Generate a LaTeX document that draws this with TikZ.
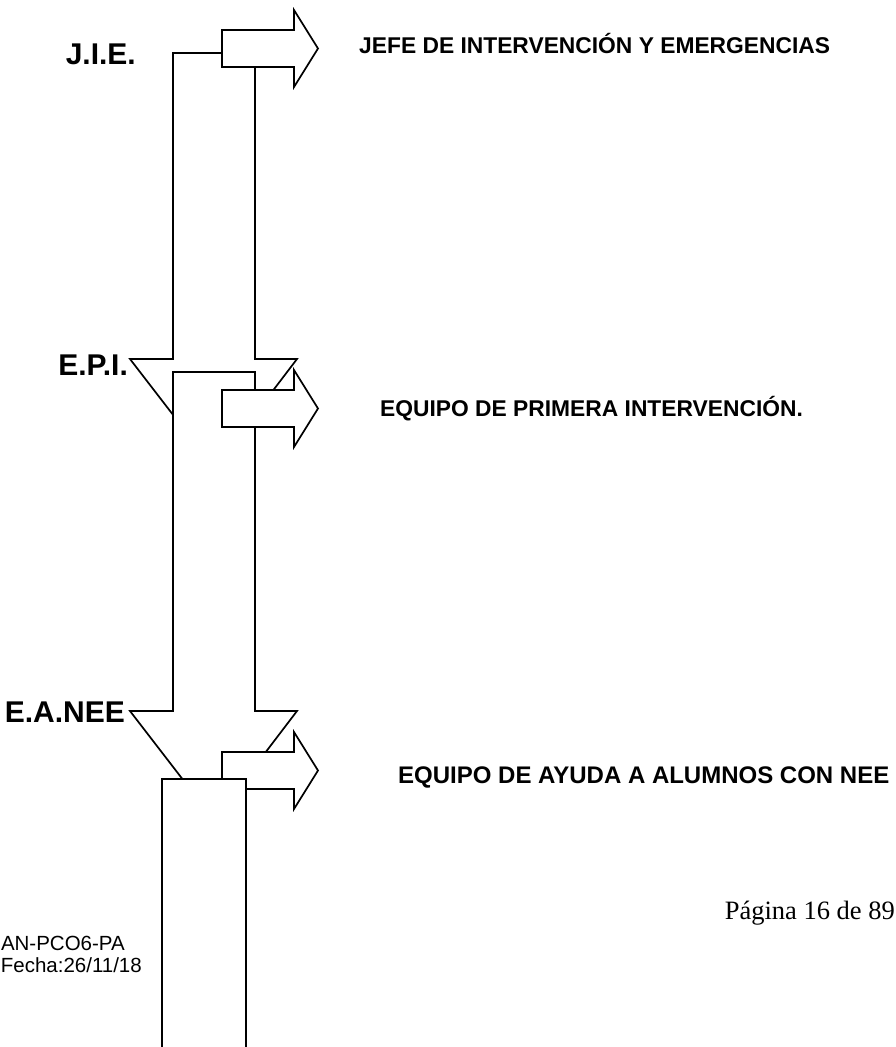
\documentclass[tikz,border=0pt]{standalone}
\usepackage{fontspec}
\setmainfont{Liberation Sans}
\newfontfamily\pagfont{Liberation Serif}
\usepackage{tikz}

\begin{document}
\begin{tikzpicture}[x=1pt,y=-1pt,
    flecha/.style={draw=black,fill=white,line width=1.7pt,line join=miter},
    sigla/.style={font=\bfseries\fontsize{30}{35}\selectfont,inner sep=0pt},
    equipo/.style={font=\bfseries\fontsize{22.8}{27}\selectfont,inner sep=0pt,anchor=base west},
    pie/.style={font=\fontsize{20.5}{25}\selectfont,inner sep=0pt,anchor=base east}]
       \useasboundingbox (0,0) rectangle (896,1047);
       \clip (0,0) rectangle (896,1047);
       % flechas hacia abajo
       \foreach \arriba/\cabeza in {53/359, 372/711}
         \filldraw[flecha] (173,\arriba) -- (255,\arriba) -- (255,\cabeza) -- (297,\cabeza)
               -- (214,\cabeza+109) -- (130,\cabeza) -- (173,\cabeza) -- cycle;
       % flechas hacia la derecha
       \foreach \medio in {48.5, 408.5, 770.5}
         \filldraw[flecha] (222,\medio-18.5) -- (294,\medio-18.5) -- (294,\medio-38.5)
               -- (318,\medio) -- (294,\medio+38.5) -- (294,\medio+18.5) -- (222,\medio+18.5) -- cycle;
       \filldraw[flecha] (162,1070) rectangle (246,779);
       % siglas
       \node[sigla,anchor=base east] (jie)   at (136,64)  {J.I.E.};
       \node[sigla,anchor=base east] (epi)   at (128,375) {E.P.I.};
       \node[sigla,anchor=base east] (eanee) at (125,722) {E.A.NEE};
       % nombres de los equipos
       \node[equipo] (jefe)    at (359,53)  {JEFE DE INTERVENCIÓN Y EMERGENCIAS};
       \node[equipo] (primera) at (380,416) {EQUIPO DE PRIMERA INTERVENCIÓN.};
       \node[equipo,font=\bfseries\fontsize{24}{28}\selectfont] (ayuda) at (398,783)
             {EQUIPO DE AYUDA A ALUMNOS CON NEE};
       % pie de pagina
       \node[pie] (codigo) at (125,950) {AN-PCO6-PA};
       \node[pie] (fecha)  at (142,972) {Fecha:26/11/18};
       \node[inner sep=0pt,anchor=base east,font=\pagfont\fontsize{26.5}{31}\selectfont] (pagina)
             at (895,919) {Página 16 de 89};
      \end{tikzpicture}
\end{document}
